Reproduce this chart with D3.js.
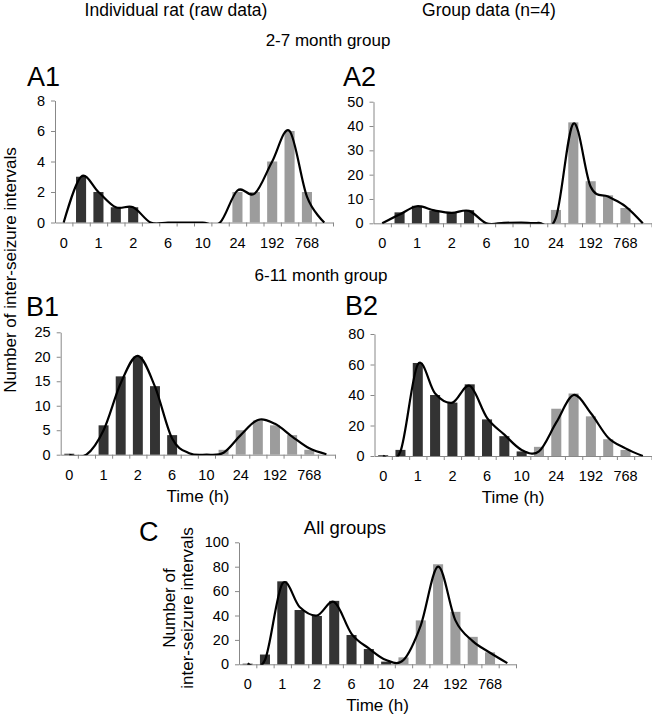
<!DOCTYPE html>
<html>
<head>
<meta charset="utf-8">
<script src="https://cdnjs.cloudflare.com/ajax/libs/d3/7.8.5/d3.min.js"></script>
<style>
  body { margin: 0; background: #fff; }
  svg { display: block; font-family: "Liberation Sans", Arial, Helvetica, sans-serif; }
</style>
</head>
<body>
<svg class="js-render-chart" width="652" height="719"></svg>
<script>
"use strict";

//data

const bins = ["0", "", "1", "", "2", "", "6", "", "10", "", "24", "", "192", "", "768", ""];
const binGroup = ["short", "short", "short", "short", "short", "short", "short", "short", "short",
  "long", "long", "long", "long", "long", "long", "long"];

const a1Bars = [0, 3, 2, 1, 1, 0, 0, 0, 0, 0, 2, 2, 4, 6, 2, 0];
const a1Fit = [0, 3, 2, 1, 1, 0, 0, 0, 0, 0, 2.1, 1.9, 4, 6, 1.7, 0];

const a2Bars = [0, 4.5, 7.2, 5.2, 4.2, 5.4, 0, 0, 0, 0, 5.5, 41.5, 17.3, 11.5, 6.3, 0];
const a2Fit = [0, 3.6, 7, 5.3, 4.3, 5.1, 0, 0.2, 0.3, 0.2, 2.3, 41, 15, 11, 7, 0];

const b1Bars = [0.2, 0, 6, 16, 20, 14, 4, 0, 0, 1, 5, 7, 6, 4, 1, 0];
const b1Fit = [0, 0, 5, 14.6, 20.2, 13.9, 3.3, 0.3, 0, 0.4, 4, 7.1, 6.3, 3.7, 1.3, 0.1];

const b2Bars = [0.5, 4, 61, 40, 35, 47, 24, 13, 3, 6, 31, 41, 26, 11, 4, 0];
const b2Fit = [0.3, 3, 60, 41, 35, 46, 25, 14, 4, 3, 22, 40, 28, 12, 5, 0];

const cBars = [0.5, 8, 68, 44.5, 39.6, 52, 24, 12.5, 2.2, 5.7, 36, 82, 43, 22.5, 9.8, 0];
const cFit = [0.8, 3.5, 66, 47, 40, 51, 25, 13, 3.5, 3.5, 32, 80, 36, 19, 9.5, 1];

//layout

const panels = [
  { tag: "A1", bars: a1Bars, fit: a1Fit, yMax: 8, yStep: 2, x: [55, 333], y: [222.5, 100.5], at: [27, 86], time: false },
  { tag: "A2", bars: a2Bars, fit: a2Fit, yMax: 50, yStep: 10, x: [373.5, 651.5], y: [223.3, 101.7], at: [343, 86], time: false },
  { tag: "B1", bars: b1Bars, fit: b1Fit, yMax: 25, yStep: 5, x: [60.7, 335], y: [454.7, 332.3], at: [26, 315.5], time: true },
  { tag: "B2", bars: b2Bars, fit: b2Fit, yMax: 80, yStep: 20, x: [374.5, 651.5], y: [456, 334], at: [345, 315], time: true },
  { tag: "C", bars: cBars, fit: cFit, yMax: 100, yStep: 20, x: [239, 516], y: [664.3, 542.3], at: [139, 541], time: true }
];

const titles = [
  { text: "Individual rat (raw data)", x: 176, y: 16, size: 17.5 },
  { text: "Group data (n=4)", x: 489, y: 16, size: 17.5 },
  { text: "2-7 month group", x: 328, y: 46, size: 17 },
  { text: "6-11 month group", x: 321, y: 281, size: 17 },
  { text: "All groups", x: 345, y: 534, size: 18.5 }
];

const svg = d3.select(".js-render-chart");

//panel

const drawPanel = (p, i) => {

  const { bars, fit, yMax, yStep } = p;

  const x = d3.scaleBand()
    .domain(d3.range(bins.length))
    .range(p.x)
    .paddingInner(0.42)
    .paddingOuter(0.21);

  const edge = d3.scaleLinear()
    .domain([0, bins.length])
    .range(p.x);

  const y = d3.scaleLinear()
    .domain([0, yMax])
    .range(p.y);

  const g = svg.append("g");

  //axes

  g.append("g")
    .attr("transform", `translate(0, ${y(0)})`)
    .style("color", "#888")
    .call(d3.axisBottom(edge)
      .tickValues(d3.range(1, bins.length + 1))
      .tickSizeInner(4)
      .tickSizeOuter(0)
      .tickFormat(() => ""));

  g.append("g")
    .attr("transform", `translate(0, ${y(0)})`)
    .call(d3.axisBottom(x).tickSize(0).tickFormat((k) => bins[k]))
    .call((a) => a.select(".domain").remove())
    .selectAll("text")
    .attr("y", 25)
    .attr("dy", null)
    .attr("fill", "#000")
    .style("font-size", "14.5px");

  g.append("g")
    .attr("transform", `translate(${p.x[0]}, 0)`)
    .style("color", "#888")
    .call(d3.axisLeft(y)
      .tickValues(d3.range(0, yMax + yStep / 2, yStep))
      .tickSizeInner(4)
      .tickSizeOuter(0)
      .tickPadding(6))
    .selectAll("text")
    .attr("fill", "#000")
    .style("font-size", "14.5px");

  //bars

  g.append("g")
    .selectAll("rect")
    .data(bars)
    .join("rect")
    .attr("x", (d, k) => x(k))
    .attr("width", x.bandwidth())
    .attr("y", (d) => y(d))
    .attr("height", (d) => y(0) - y(d))
    .attr("fill", (d, k) => binGroup[k] === "short" ? "#333" : "#9c9c9c");

  //fit line

  g.append("clipPath")
    .attr("id", `clip${i}`)
    .append("rect")
    .attr("x", p.x[0])
    .attr("y", p.y[1] - 10)
    .attr("width", p.x[1] - p.x[0])
    .attr("height", y(0) - p.y[1] + 10.5);

  const line = d3.line()
    .x((d, k) => x(k) + x.bandwidth() / 2)
    .y((d) => y(d))
    .curve(d3.curveCatmullRom.alpha(0));

  g.append("path")
    .attr("clip-path", `url(#clip${i})`)
    .attr("d", line(fit))
    .attr("fill", "none")
    .attr("stroke", "#000")
    .attr("stroke-width", 2.2);

  //labels

  g.append("text")
    .attr("x", p.at[0])
    .attr("y", p.at[1])
    .style("font-size", "27px")
    .text(p.tag);

  if (p.time) {
    g.append("text")
      .attr("x", (p.x[0] + p.x[1]) / 2)
      .attr("y", y(0) + 47)
      .attr("text-anchor", "middle")
      .style("font-size", "17px")
      .text("Time (h)");
  }

};

panels.forEach(drawPanel);

//titles

svg.selectAll(".c-title")
  .data(titles)
  .join("text")
  .attr("class", "c-title")
  .attr("x", (d) => d.x)
  .attr("y", (d) => d.y)
  .attr("text-anchor", "middle")
  .style("font-size", (d) => `${d.size}px`)
  .text((d) => d.text);

svg.append("text")
  .attr("transform", "translate(16, 270) rotate(-90)")
  .attr("text-anchor", "middle")
  .style("font-size", "17px")
  .text("Number of inter-seizure intervals");

svg.append("text")
  .attr("transform", "translate(175, 608) rotate(-90)")
  .attr("text-anchor", "middle")
  .style("font-size", "17px")
  .selectAll("tspan")
  .data(["Number of", "inter-seizure intervals"])
  .join("tspan")
  .attr("x", 0)
  .attr("dy", (d, k) => k ? 18 : 0)
  .text((d) => d);

</script>
</body>
</html>
